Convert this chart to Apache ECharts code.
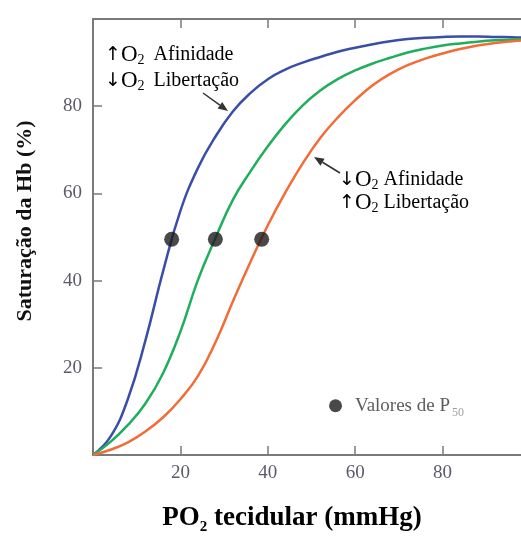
<!DOCTYPE html>
<html>
<head>
<meta charset="utf-8">
<script src="https://cdn.jsdelivr.net/npm/echarts@6/dist/echarts.min.js"></script>
<style>
  html, body { margin: 0; padding: 0; background: #fff; }
  #chart { width: 521px; height: 536px; }
</style>
</head>
<body>
<div id="chart"></div>
<script>
// PO2 (mmHg) vs saturação
const po = [0, 4, 8, 12, 16, 20, 24, 28, 32, 36, 40, 44, 48, 52, 56, 60, 64, 68, 72, 76, 80, 84, 88, 92, 96, 100];
const satBlue = [0, 4.2, 12.9, 26.3, 42.0, 56.0, 65.8, 73.0, 78.8, 83.0, 86.2, 88.4, 90.0, 91.3, 92.5, 93.4, 94.2, 94.9, 95.4, 95.7, 95.9, 96.0, 96.0, 95.9, 95.8, 95.7];
const satGreen = [0, 3.0, 6.9, 11.8, 18.7, 28.3, 40.1, 49.7, 58.5, 65.0, 70.8, 75.9, 80.2, 83.6, 86.2, 88.2, 89.8, 91.1, 92.3, 93.2, 93.9, 94.4, 94.8, 95.1, 95.3, 95.4];
const satOrange = [0, 1.2, 2.9, 5.4, 8.6, 12.8, 18.1, 25.8, 35.2, 44.2, 52.7, 60.2, 66.9, 72.7, 77.4, 81.4, 84.8, 87.4, 89.4, 90.9, 92.1, 93.1, 93.9, 94.5, 94.9, 95.2];

const p50X = [18, 28, 38.6];
const p50Y = [49.5, 49.5, 49.5];

const keyX = [55.5];
const keyY = [11.3];

const tickLabels = [20, 40, 60, 80];

const serif = '"Liberation Serif", "DejaVu Serif", serif';
const frameColor = '#7a7a7a';

function pairs(xs, ys) {
    return xs.map(function (x, i) { return [x, ys[i]]; });
}

function arrow(x1, y1, x2, y2) {
    let dx = x2 - x1, dy = y2 - y1;
    let len = Math.sqrt(dx * dx + dy * dy);
    let ux = dx / len, uy = dy / len;
    let bx = x2 - ux * 10, by = y2 - uy * 10;
    let px = -uy * 4, py = ux * 4;
    return [
        { type: 'line', shape: { x1: x1, y1: y1, x2: bx, y2: by }, style: { stroke: '#333', lineWidth: 1.5 } },
        { type: 'polygon', shape: { points: [[x2, y2], [bx + px, by + py], [bx - px, by - py]] }, style: { fill: '#333' } }
    ];
}

function note(x, y, txt, gap) {
    return {
        type: 'text', x: x, y: y, z: 10,
        style: {
            text: txt, verticalAlign: 'middle', align: 'left',
            rich: {
                r: { fontSize: 19, color: '#8a8a8a', fontFamily: 'DejaVu Sans' },
                o: { fontSize: 23, color: '#3e4c84', fontFamily: serif },
                s: { fontSize: 14, color: '#b07a4a', fontFamily: serif, padding: [11, 0, 0, 0] },
                w: { fontSize: 20, color: '#222', fontFamily: serif, padding: [0, 0, 0, gap] }
            }
        }
    };
}

let chart = echarts.init(document.getElementById('chart'));

let axisCommon = {
    type: 'value',
    min: 0,
    max: 100,
    interval: 20,
    splitLine: { show: false },
    axisLine: { onZero: false, lineStyle: { color: frameColor, width: 2 } },
    axisTick: { inside: true, length: 9, lineStyle: { color: frameColor, width: 1.5 } }
};

let labelStyle = {
    formatter: function (v) { return tickLabels.indexOf(v) >= 0 ? String(v) : ''; },
    fontFamily: serif,
    fontSize: 19,
    color: '#5a5a6c',
    margin: 9
};

let lineCommon = { type: 'line', showSymbol: false, smooth: 0.45 };

let option = {
    animation: false,
    backgroundColor: '#fff',
    grid: { left: 93, top: 19, width: 437, height: 436, outerBoundsMode: 'none', containLabel: false },
    xAxis: [
        Object.assign({}, axisCommon, { position: 'bottom', axisLabel: labelStyle }),
        Object.assign({}, axisCommon, { position: 'top', axisLabel: { show: false } })
    ],
    yAxis: [
        Object.assign({}, axisCommon, { position: 'left', axisLabel: Object.assign({}, labelStyle, { margin: 11 }) }),
        Object.assign({}, axisCommon, { position: 'right', axisLabel: { show: false } })
    ],
    series: [
        Object.assign({}, lineCommon, { data: pairs(po, satBlue), lineStyle: { color: '#3a4ea8', width: 2.5 } }),
        Object.assign({}, lineCommon, { data: pairs(po, satGreen), lineStyle: { color: '#1eae5c', width: 2.5 } }),
        Object.assign({}, lineCommon, { data: pairs(po, satOrange), lineStyle: { color: '#f26c38', width: 2.5 } }),
        {
            type: 'scatter', data: pairs(p50X, p50Y), symbolSize: 15, z: 5,
            itemStyle: { color: '#1c1c1c' }
        },
        {
            type: 'scatter', data: pairs(keyX, keyY), symbolSize: 13, z: 5,
            itemStyle: { color: '#1c1c1c' },
            label: {
                show: true, position: 'right', distance: 13,
                formatter: '{a|Valores de P}{s|50}',
                rich: {
                    a: { fontFamily: serif, fontSize: 19, color: '#333' },
                    s: { fontFamily: serif, fontSize: 12, color: '#888', padding: [14, 0, 0, 2] }
                }
            }
        }
    ],
    graphic: [
        note(105, 55, '{r|↑}{o|O}{s|2}{w|Afinidade}', 9),
        note(105, 81, '{r|↓}{o|O}{s|2}{w|Libertação}', 9),
        note(339, 180, '{r|↓}{o|O}{s|2}{w|Afinidade}', 5),
        note(339, 203, '{r|↑}{o|O}{s|2}{w|Libertação}', 5),
        {
            type: 'text', x: 25, y: 221, rotation: Math.PI / 2,
            style: {
                text: 'Saturação da Hb (%)', fontFamily: serif, fontWeight: 'bold',
                fontSize: 22, fill: '#111', align: 'center', verticalAlign: 'middle'
            }
        },
        {
            type: 'text', x: 292, y: 518,
            style: {
                text: '{t|PO}{s|2}{t| tecidular (mmHg)}', align: 'center', verticalAlign: 'middle',
                rich: {
                    t: { fontFamily: serif, fontWeight: 'bold', fontSize: 27, color: '#111' },
                    s: { fontFamily: serif, fontWeight: 'bold', fontSize: 15, color: '#111', padding: [19, 0, 0, 0] }
                }
            }
        }
    ].concat(arrow(203, 93, 228, 111), arrow(340, 173, 314, 157))
};

chart.setOption(option);
</script>
</body>
</html>
